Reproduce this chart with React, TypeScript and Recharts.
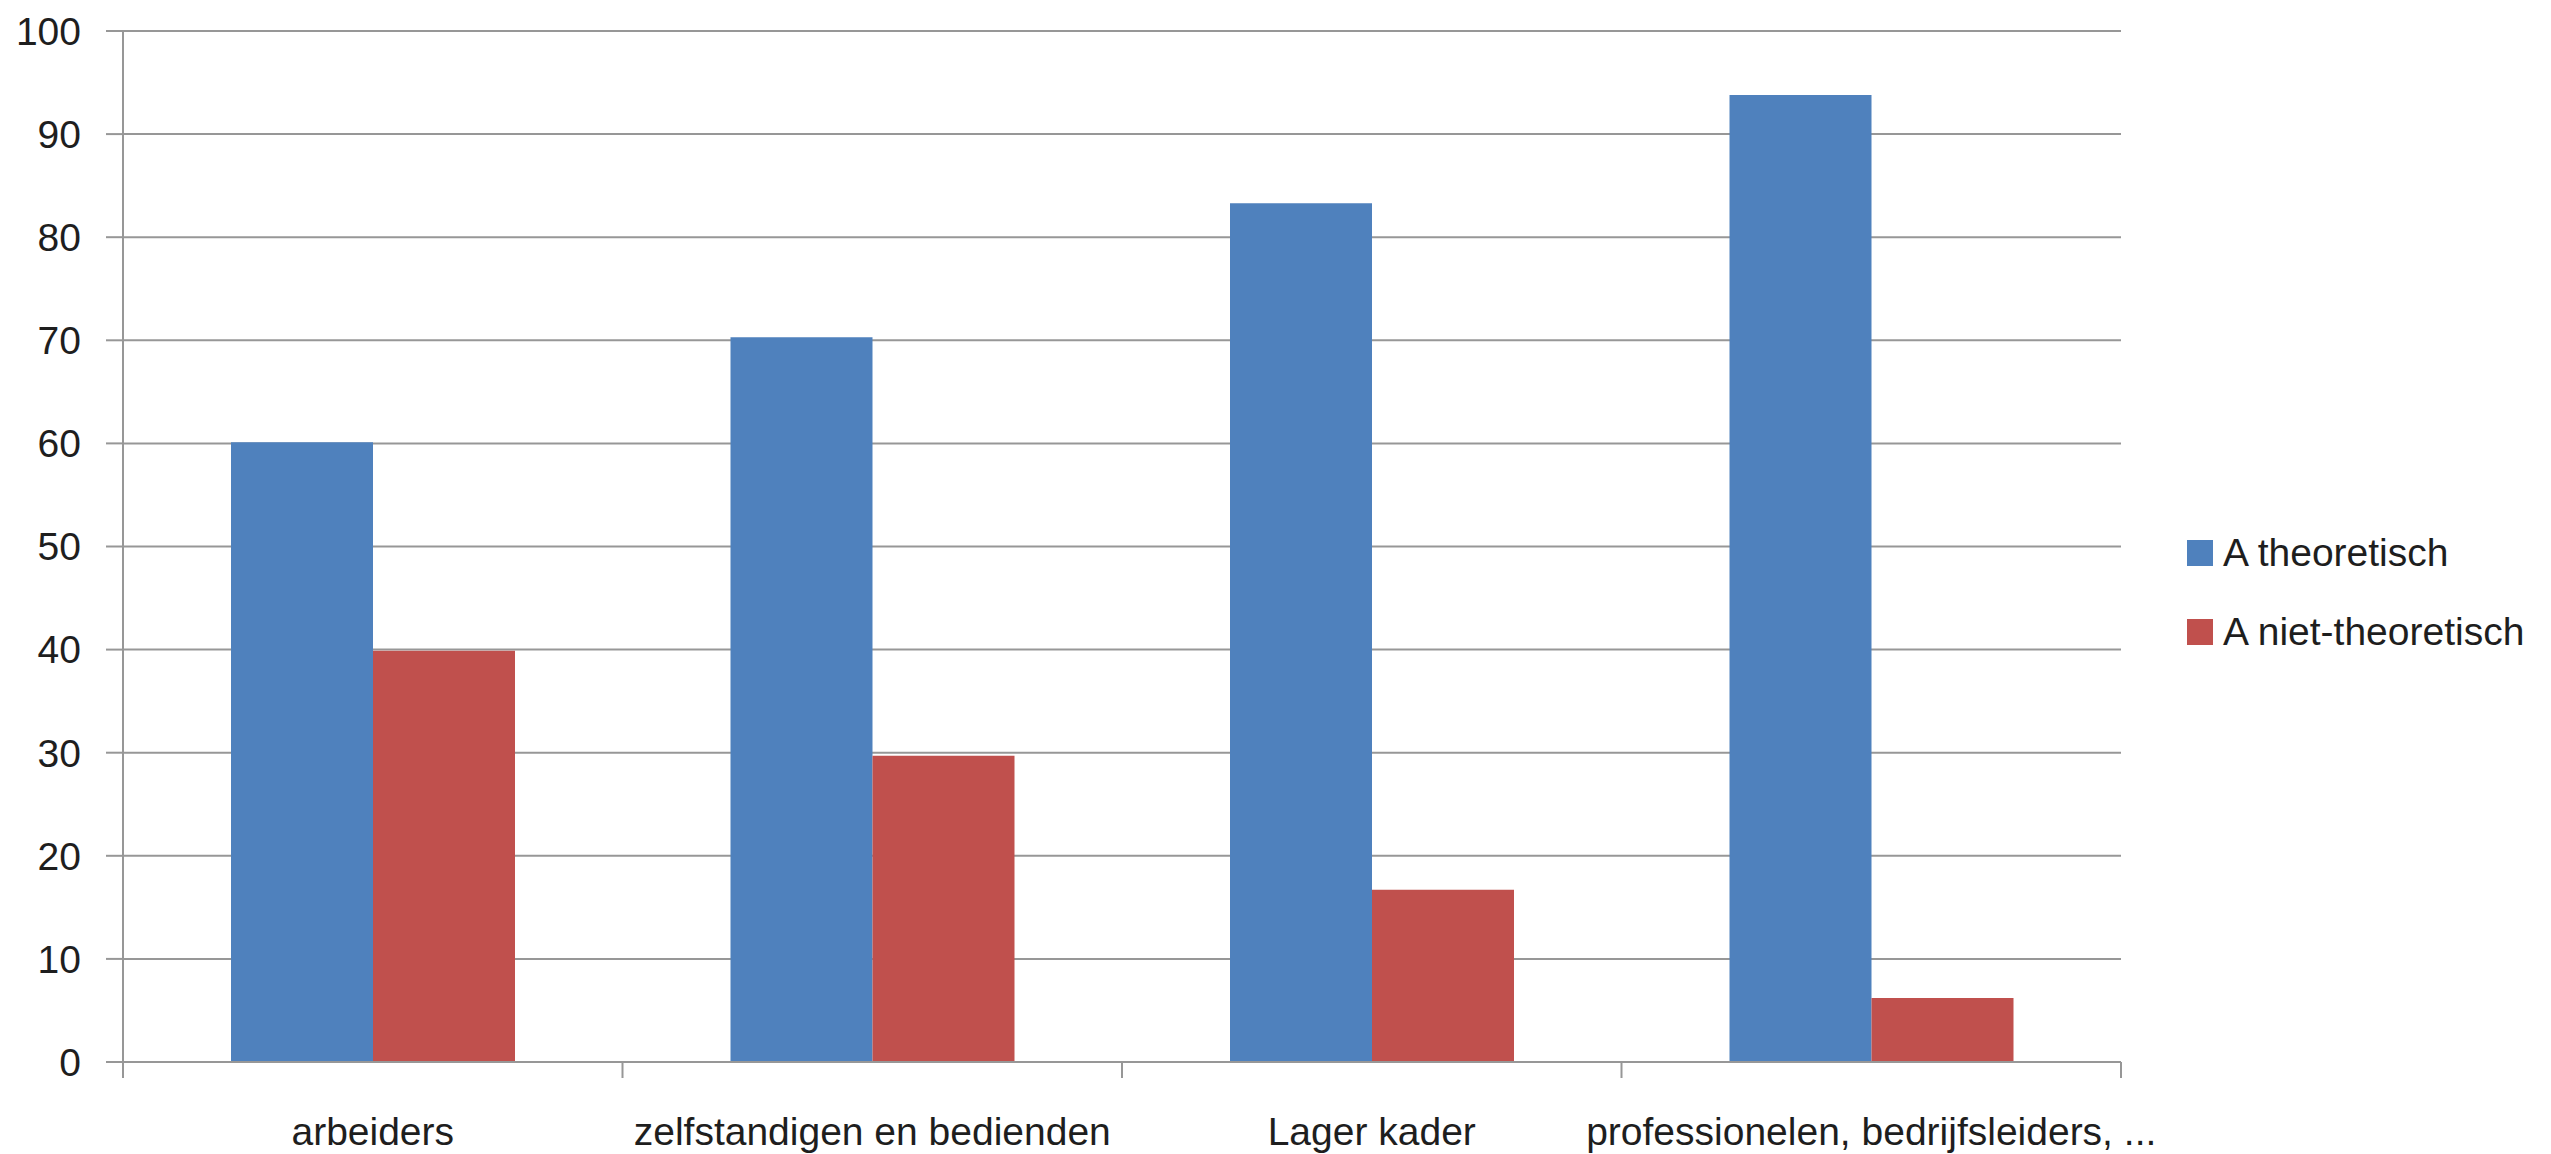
import React from 'react'
import { BarChart, Bar, XAxis, YAxis, CartesianGrid, Legend } from 'recharts'

// beroepsgroepen
const categories = ['arbeiders', 'zelfstandigen en bedienden', 'Lager kader', 'professionelen, bedrijfsleiders, ...']
const theoretisch = [60.1, 70.3, 83.3, 93.8]
const nietTheoretisch = [39.9, 29.7, 16.7, 6.2]
const yTicks = [0, 10, 20, 30, 40, 50, 60, 70, 80, 90, 100]

const seriesNames = ['A theoretisch', 'A niet-theoretisch']
const BLUE = '#4F81BD'
const RED = '#C0504D'
const GRID = '#979797'
const FONT = '"Liberation Sans", Arial, sans-serif'
const TEXT = '#1e1e1e'

const data = categories.map((name, i) => ({
  name,
  theoretisch: theoretisch[i],
  nietTheoretisch: nietTheoretisch[i],
}))

// labels under the bars, with tick marks on the category boundaries (like Excel)
const CategoryTick = (props: any) => {
  const { x, y, payload, index, visibleTicksCount } = props
  const half = payload?.offset ?? 0
  return (
    <g>
      <line x1={x - half} y1={y} x2={x - half} y2={y + 16} stroke={GRID} strokeWidth={2} />
      {index === visibleTicksCount - 1 && (
        <line x1={x + half} y1={y} x2={x + half} y2={y + 16} stroke={GRID} strokeWidth={2} />
      )}
      <text x={x} y={y + 83} textAnchor="middle" fill={TEXT} fontSize={39} fontFamily={FONT}>
        {payload.value}
      </text>
    </g>
  )
}

const LegendBox = () => (
  <div style={{ fontFamily: FONT, fontSize: 39, color: TEXT }}>
    {seriesNames.map((n, i) => (
      <div key={n} style={{ display: 'flex', alignItems: 'center', height: 79, whiteSpace: 'nowrap' }}>
        <span style={{ width: 26, height: 26, background: i === 0 ? BLUE : RED, marginRight: 10, display: 'inline-block' }} />
        <span>{n}</span>
      </div>
    ))}
  </div>
)

const App: React.FC = () => {
  return (
    <div style={{ position: 'absolute', left: 0, top: 0, background: '#fff' }}>
      <BarChart
        width={2551}
        height={1154}
        data={data}
        margin={{ top: 31, right: 430, bottom: 0, left: 0 }}
        barGap={0}
      >
        <CartesianGrid vertical={false} stroke={GRID} strokeWidth={2} />
        <XAxis
          dataKey="name"
          height={92}
          axisLine={{ stroke: GRID, strokeWidth: 2 }}
          tickLine={false}
          tickSize={0}
          tickMargin={0}
          interval={0}
          tick={<CategoryTick />}
        />
        <YAxis
          width={123}
          domain={[0, 100]}
          ticks={yTicks}
          interval={0}
          axisLine={{ stroke: GRID, strokeWidth: 2 }}
          tickLine={{ stroke: GRID, strokeWidth: 2 }}
          tickSize={17}
          tickMargin={25}
          tick={{ fill: TEXT, fontSize: 39, fontFamily: FONT }}
        />
        <Legend
          layout="vertical"
          align="center"
          verticalAlign="middle"
          content={<LegendBox />}
          wrapperStyle={{ left: 2187, top: 513.5, width: 360 }}
        />
        <Bar dataKey="theoretisch" name={seriesNames[0]} fill={BLUE} barSize={142} isAnimationActive={false} />
        <Bar dataKey="nietTheoretisch" name={seriesNames[1]} fill={RED} barSize={142} isAnimationActive={false} />
      </BarChart>
    </div>
  )
}

export default App
